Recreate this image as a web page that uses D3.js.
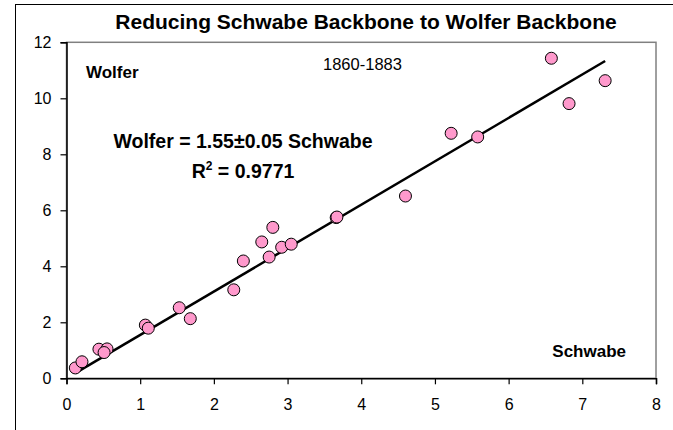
<!DOCTYPE html>
<html>
<head>
<meta charset="utf-8">
<script src="https://cdn.jsdelivr.net/npm/d3@7"></script>
<style>
  body { margin: 0; background: #fff; }
  text { font-family: Arial, "Liberation Sans", sans-serif; fill: #000; }
</style>
</head>
<body>
<script>
// Yearly values 1860-1883
const schwabe = [0.12, 0.21, 0.44, 0.55, 0.51, 1.07, 1.11, 1.53, 1.68, 2.27, 2.40,
  2.65, 2.80, 2.75, 2.92, 3.05, 3.66, 3.67, 4.60, 5.22, 5.58, 6.58, 6.82, 7.31];
const wolfer = [0.37, 0.59, 1.04, 1.05, 0.92, 1.90, 1.79, 2.52, 2.13, 3.16, 4.19,
  4.87, 5.39, 4.33, 4.68, 4.79, 5.74, 5.76, 6.51, 8.75, 8.62, 11.43, 9.81, 10.63];
const slope = 1.55;
const xTicks = [0, 1, 2, 3, 4, 5, 6, 7, 8];
const yTicks = [0, 2, 4, 6, 8, 10, 12];

const w = 673;
const h = 430;
const plot = { left: 66.5, right: 656, top: 42.3, bottom: 378.3 };

const svg = d3.select('body')
  .append('svg')
  .attr('width', w)
  .attr('height', h);

// Outer chart frame
svg.append('rect')
  .attr('x', 15.5)
  .attr('y', 4.5)
  .attr('width', 700)
  .attr('height', 500)
  .attr('fill', 'none')
  .attr('stroke', '#000');

const xScale = d3.scaleLinear().domain([0, 8]).range([plot.left, plot.right]);
const yScale = d3.scaleLinear().domain([0, 12]).range([plot.bottom, plot.top]);

// Plot area border (gray)
svg.append('rect')
  .attr('x', plot.left)
  .attr('y', plot.top)
  .attr('width', plot.right - plot.left)
  .attr('height', plot.bottom - plot.top)
  .attr('fill', 'none')
  .attr('stroke', '#808080')
  .attr('stroke-width', 1.5);

// Axes
const xAxis = d3.axisBottom(xScale).tickValues(xTicks).tickSize(6).tickPadding(14);
const yAxis = d3.axisLeft(yScale).tickValues(yTicks).tickSize(6).tickPadding(9);

const gx = svg.append('g')
  .attr('transform', `translate(0, ${plot.bottom})`)
  .call(xAxis);
const gy = svg.append('g')
  .attr('transform', `translate(${plot.left}, 0)`)
  .call(yAxis);

[gx, gy].forEach((g) => {
  g.select('.domain').attr('stroke', '#000').attr('stroke-width', 1.5);
  g.selectAll('.tick line').attr('stroke', '#000').attr('stroke-width', 1.2);
  g.selectAll('.tick text')
    .style('font-family', 'Arial, "Liberation Sans", sans-serif')
    .style('font-size', '16px')
    .attr('fill', '#000');
});

// Trend line through the origin
const xr = d3.extent(schwabe);
svg.append('line')
  .attr('x1', xScale(xr[0]))
  .attr('y1', yScale(slope * xr[0]))
  .attr('x2', xScale(xr[1]))
  .attr('y2', yScale(slope * xr[1]))
  .attr('stroke', '#000')
  .attr('stroke-width', 2.5);

// Points
svg.selectAll('circle')
  .data(d3.range(schwabe.length))
  .enter()
  .append('circle')
  .attr('cx', i => xScale(schwabe[i]))
  .attr('cy', i => yScale(wolfer[i]))
  .attr('r', 6)
  .attr('fill', '#ff99cc')
  .attr('stroke', '#000')
  .attr('stroke-width', 1);

// Title
svg.append('text')
  .attr('x', 366)
  .attr('y', 29)
  .attr('text-anchor', 'middle')
  .style('font-size', '21px')
  .style('font-weight', 'bold')
  .text('Reducing Schwabe Backbone to Wolfer Backbone');

// Labels inside the plot
svg.append('text')
  .attr('x', 86)
  .attr('y', 78)
  .style('font-size', '17px')
  .style('font-weight', 'bold')
  .text('Wolfer');

svg.append('text')
  .attr('x', 323)
  .attr('y', 70)
  .style('font-size', '16.5px')
  .text('1860-1883');

svg.append('text')
  .attr('x', 243)
  .attr('y', 148)
  .attr('text-anchor', 'middle')
  .style('font-size', '19.5px')
  .style('font-weight', 'bold')
  .text('Wolfer = 1.55\u00b10.05 Schwabe');

const r2 = svg.append('text')
  .attr('x', 243)
  .attr('y', 178)
  .attr('text-anchor', 'middle')
  .style('font-size', '19.5px')
  .style('font-weight', 'bold');
r2.append('tspan').text('R');
r2.append('tspan').attr('dy', -8).style('font-size', '12px').text('2');
r2.append('tspan').attr('dy', 8).text(' = 0.9771');

svg.append('text')
  .attr('x', 626)
  .attr('y', 357)
  .attr('text-anchor', 'end')
  .style('font-size', '17px')
  .style('font-weight', 'bold')
  .text('Schwabe');
</script>
</body>
</html>
